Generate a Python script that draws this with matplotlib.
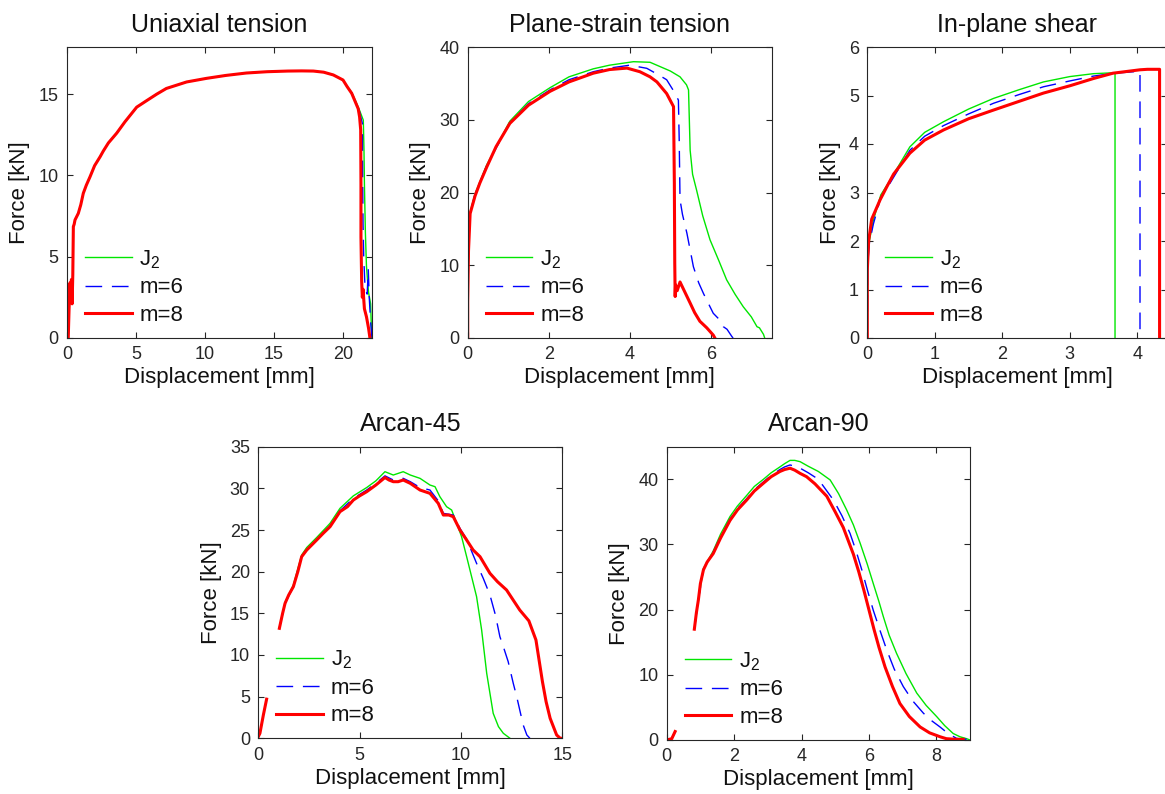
import matplotlib
matplotlib.use('Agg')
import matplotlib.pyplot as plt

plt.rcParams['font.family'] = ['Liberation Sans', 'DejaVu Sans']
plt.rcParams['mathtext.fontset'] = 'custom'
plt.rcParams['mathtext.rm'] = 'Liberation Sans'
plt.rcParams['mathtext.it'] = 'Liberation Sans'
plt.rcParams['mathtext.default'] = 'regular'

series_labels = ['J$_2$', 'm=6', 'm=8']
titles = ['Uniaxial tension', 'Plane-strain tension', 'In-plane shear', 'Arcan-45', 'Arcan-90']

# ---------------- Uniaxial tension ----------------
uni_common_x = [0.09, 0.15, 0.22, 0.27, 0.32, 0.37, 0.42, 0.46, 0.52, 0.58, 0.82, 1.0, 1.18, 1.4, 1.67,
                2.0, 2.4, 2.63, 3.0, 3.6, 4.2, 5.05, 5.77, 6.5, 7.2, 8.67, 10.1, 11.5, 13.0, 14.5,
                16.0, 17.0, 17.85, 18.6, 19.3, 20.0, 20.3]
uni_common_y = [0.0, 1.8, 3.4, 2.3, 3.6, 2.1, 3.9, 6.85, 7.0, 7.26, 7.67, 8.2, 8.9, 9.4, 9.92,
                10.6, 11.15, 11.5, 12.0, 12.6, 13.3, 14.2, 14.6, 15.0, 15.35, 15.75, 15.97, 16.15, 16.3, 16.38,
                16.42, 16.43, 16.42, 16.35, 16.18, 15.87, 15.46]
uni_j2_tail_x = [20.63, 20.9, 21.2, 21.47, 21.52, 21.55, 21.62, 21.7, 21.85, 22.0, 22.08]
uni_j2_tail_y = [15.1, 14.6, 14.0, 13.4, 11.5, 9.5, 6.5, 4.4, 2.8, 2.1, 0.0]
uni_m6_tail_x = [20.63, 20.9, 21.2, 21.4, 21.42, 21.45, 21.5, 21.6, 21.75, 21.83, 21.9, 22.0, 22.1]
uni_m6_tail_y = [15.08, 14.5, 13.9, 13.2, 10.0, 7.0, 5.0, 3.0, 2.7, 4.2, 2.5, 1.0, 0.0]
uni_m8_tail_x = [20.63, 21.1, 21.2, 21.28, 21.3, 21.3, 21.35, 21.4, 21.45, 21.55, 21.7, 21.85, 21.95]
uni_m8_tail_y = [15.05, 14.1, 13.6, 12.8, 9.5, 6.2, 3.5, 2.5, 3.0, 1.8, 1.3, 0.6, 0.0]

# ---------------- Plane-strain tension ----------------
ps_j2_x = [0, 0.02, 0.06, 0.18, 0.47, 1.04, 1.5, 2.03, 2.5, 3.1, 3.5, 4.09, 4.5, 4.75, 5.0, 5.24, 5.4,
           5.45, 5.49, 5.55, 5.65, 5.8, 5.98, 6.2, 6.39, 6.6, 6.8, 7.0, 7.14, 7.2, 7.3, 7.33]
ps_j2_y = [0, 12, 17.3, 19.8, 23.8, 29.8, 32.5, 34.4, 35.9, 37.0, 37.5, 37.98, 37.9, 37.3, 36.7, 35.9, 34.8,
           34.1, 25.8, 22.5, 20.3, 16.8, 13.5, 10.6, 8.0, 6.0, 4.3, 2.9, 1.55, 1.4, 0.5, 0]
ps_m6_x = [0, 0.02, 0.06, 0.18, 0.47, 1.04, 1.5, 2.03, 2.5, 3.1, 3.5, 4.0, 4.42, 4.7, 4.91, 5.1, 5.2,
           5.22, 5.24, 5.3, 5.41, 5.57, 5.7, 5.82, 6.06, 6.2, 6.31, 6.4, 6.52, 6.55]
ps_m6_y = [0, 12, 17.2, 19.7, 23.7, 29.6, 32.2, 34.1, 35.5, 36.6, 37.1, 37.5, 37.07, 36.2, 35.5, 33.8, 32.7,
           27.2, 19.0, 17.0, 14.4, 9.8, 7.6, 6.1, 3.4, 2.6, 1.55, 1.2, 0.2, 0]
ps_m8_x = [0, 0.0, 0.02, 0.06, 0.18, 0.3, 0.47, 0.7, 1.04, 1.5, 2.03, 2.5, 3.1, 3.5, 3.93, 4.25, 4.5,
           4.67, 4.91, 5.08, 5.1, 5.11, 5.12, 5.13, 5.17, 5.24, 5.3, 5.49, 5.6, 5.73, 5.9, 6.06, 6.1]
ps_m8_y = [0, 5, 12, 17.1, 19.5, 21.3, 23.5, 26.3, 29.5, 32.0, 33.9, 35.2, 36.4, 36.9, 37.1, 36.6, 35.9,
           35.2, 33.6, 31.8, 21.3, 10.3, 5.7, 7.3, 6.5, 7.7, 7.0, 4.8, 3.5, 2.3, 1.4, 0.4, 0]

# ---------------- In-plane shear ----------------
sh_j2_x = [0, 0.005, 0.03, 0.09, 0.2, 0.34, 0.63, 0.85, 1.13, 1.5, 1.87, 2.25, 2.61, 3.0, 3.35, 3.67, 3.67]
sh_j2_y = [0, 1.7, 2.0, 2.43, 2.95, 3.26, 3.94, 4.24, 4.46, 4.72, 4.94, 5.12, 5.28, 5.39, 5.45, 5.47, 0]
sh_m6_x = [0, 0.005, 0.03, 0.09, 0.2, 0.34, 0.63, 0.85, 1.13, 1.5, 1.87, 2.25, 2.61, 3.0, 3.35, 3.67, 4.04, 4.04]
sh_m6_y = [0, 1.5, 1.95, 2.35, 2.9, 3.2, 3.87, 4.16, 4.38, 4.62, 4.84, 5.02, 5.18, 5.3, 5.4, 5.46, 5.5, 0]
sh_m8_x = [0, 0.0, 0.02, 0.065, 0.19, 0.29, 0.39, 0.63, 0.85, 1.13, 1.5, 1.87, 2.25, 2.61, 3.0, 3.35,
           3.64, 4.04, 4.15, 4.33, 4.33]
sh_m8_y = [0, 1.4, 2.0, 2.45, 2.85, 3.12, 3.38, 3.81, 4.08, 4.29, 4.52, 4.7, 4.88, 5.05, 5.2, 5.35,
           5.46, 5.53, 5.54, 5.54, 0]

# ---------------- Arcan-45 ----------------
a45_start_x = [0.0, 0.08, 0.25, 0.41]
a45_start_y = [0.2, 0.6, 2.8, 4.7]
a45_j2_x = [1.04, 1.32, 1.73, 2.14, 2.39, 2.88, 3.54, 4.03, 4.69, 5.35, 5.8, 6.25, 6.66, 7.15, 7.5, 7.98,
            8.47, 8.72, 8.96, 9.29, 9.54, 9.79, 10.03, 10.28, 10.77, 11.02, 11.27, 11.59, 11.85, 12.09, 12.42]
a45_j2_y = [13.3, 16.3, 18.4, 22.0, 22.9, 24.1, 25.8, 27.6, 29.1, 30.1, 30.9, 32.0, 31.6, 32.0, 31.6, 31.2,
            30.4, 30.2, 29.0, 27.8, 27.4, 25.8, 24.2, 21.8, 17.0, 13.0, 7.8, 3.0, 1.4, 0.6, 0]
a45_m6_x = [1.04, 1.32, 1.73, 2.14, 2.39, 2.88, 3.54, 4.03, 4.69, 5.35, 5.8, 6.25, 6.66, 7.15, 7.5, 7.98,
            8.47, 8.88, 9.13, 9.62, 9.95, 10.28, 10.5, 10.77, 11.1, 11.43, 11.7, 11.92, 12.09, 12.33, 12.58,
            12.75, 13.07, 13.25, 13.4]
a45_m6_y = [13.2, 16.2, 18.2, 21.8, 22.6, 23.8, 25.5, 27.3, 28.8, 29.8, 30.6, 31.5, 31.0, 31.2, 30.8, 30.1,
            29.8, 28.5, 27.0, 26.8, 25.2, 23.9, 22.6, 21.0, 19.2, 17.2, 14.8, 12.2, 11.0, 9.2, 6.6,
            5.0, 1.6, 0.4, 0]
a45_m8_x = [1.04, 1.2, 1.32, 1.5, 1.73, 1.95, 2.14, 2.39, 2.88, 3.2, 3.54, 4.03, 4.4, 4.69, 5.0, 5.35, 5.8,
            6.25, 6.45, 6.66, 6.9, 7.15, 7.5, 7.98, 8.47, 8.88, 9.13, 9.4, 9.62, 9.95, 10.28, 10.6, 10.94,
            11.43, 11.8, 12.25, 12.9, 13.35, 13.7, 14.02, 14.2, 14.4, 14.72, 14.9, 15.0]
a45_m8_y = [13.2, 15.0, 16.2, 17.2, 18.2, 20.0, 21.8, 22.6, 23.8, 24.6, 25.4, 27.2, 27.8, 28.6, 29.1, 29.6, 30.4,
            31.3, 31.0, 30.8, 30.8, 31.0, 30.6, 29.8, 29.4, 28.2, 26.8, 26.8, 26.6, 25.0, 23.8, 22.6, 21.8,
            19.8, 18.8, 17.8, 15.4, 14.1, 11.8, 6.8, 4.4, 2.4, 0.4, 0.0, 0.0]

# ---------------- Arcan-90 ----------------
a90_start_x = [0.0, 0.15, 0.25]
a90_start_y = [0.0, 0.2, 1.3]
a90_j2_x = [0.82, 0.94, 1.09, 1.38, 1.6, 1.88, 2.1, 2.37, 2.6, 2.87, 3.1, 3.36, 3.5, 3.66, 3.8, 3.96, 4.2,
            4.5, 4.85, 5.1, 5.34, 5.54, 5.74, 5.95, 6.13, 6.3, 6.43, 6.6, 6.82, 7.1, 7.42, 7.7, 8.01, 8.25,
            8.5, 8.7, 8.9, 9.0]
a90_j2_y = [17.0, 21.6, 26.3, 29.0, 31.6, 34.3, 35.9, 37.5, 38.9, 40.0, 41.0, 41.9, 42.4, 42.9, 42.9, 42.7, 42.0,
            41.2, 39.9, 37.8, 35.3, 33.0, 30.2, 27.0, 24.0, 21.2, 18.9, 16.1, 13.3, 10.2, 7.2, 5.3, 3.6, 2.2,
            1.0, 0.5, 0.2, 0]
a90_m6_x = [0.82, 0.94, 1.09, 1.38, 1.6, 1.88, 2.1, 2.37, 2.6, 2.87, 3.1, 3.36, 3.5, 3.66, 3.8, 3.96, 4.2,
            4.5, 4.95, 5.2, 5.44, 5.62, 5.79, 5.95, 6.13, 6.33, 6.53, 6.75, 7.02, 7.3, 7.62, 7.85, 8.11, 8.35,
            8.6, 8.9]
a90_m6_y = [17.0, 21.5, 26.2, 28.8, 31.2, 33.9, 35.5, 37.0, 38.4, 39.6, 40.6, 41.5, 41.9, 42.2, 42.0, 41.7, 41.0,
            40.0, 36.8, 34.4, 31.7, 29.0, 26.1, 23.1, 19.9, 16.8, 13.8, 10.9, 8.2, 6.0, 4.1, 3.0, 2.0, 1.0,
            0.25, 0.1]
a90_m8_x = [0.82, 0.88, 0.94, 1.0, 1.09, 1.2, 1.38, 1.6, 1.88, 2.1, 2.37, 2.6, 2.87, 3.1, 3.36, 3.5, 3.66,
            3.8, 3.96, 4.15, 4.4, 4.75, 5.0, 5.24, 5.54, 5.7, 5.85, 6.0, 6.15, 6.3, 6.48, 6.7, 6.92, 7.2, 7.52,
            7.8, 8.11, 8.3, 8.6, 8.8]
a90_m8_y = [17.0, 19.5, 21.5, 24.0, 26.1, 27.3, 28.6, 31.0, 33.7, 35.3, 36.8, 38.2, 39.4, 40.4, 41.2, 41.5, 41.7,
            41.4, 40.9, 40.4, 39.3, 37.4, 35.0, 32.6, 28.5, 25.8, 23.0, 20.0, 17.0, 14.2, 11.2, 8.2, 5.6, 3.6, 2.0,
            1.1, 0.5, 0.2, 0.1, 0.1]

# ---------------- figure ----------------
W, H = 1165, 794
fig = plt.figure(figsize=(W / 100, H / 100), dpi=100)

GREEN = '#00e600'
BLUE = '#0000ff'
RED = '#ff0000'
TXT = '#262626'


def make_axes(l, t, r, b):
    return fig.add_axes([l / W, 1 - b / H, (r - l) / W, (b - t) / H])


def style(ax, title, xlim, ylim, xticks, yticks, wpx, hpx):
    ax.set_xlim(xlim)
    ax.set_ylim(ylim)
    ax.set_xticks(xticks)
    ax.set_yticks(yticks)
    ax.tick_params(direction='in', length=4, width=0.8, top=True, right=True,
                   labelsize=13, pad=6, colors=TXT)
    ax.set_title(title, fontsize=18, pad=11, color='#111111')
    ax.set_xlabel('Displacement [mm]', fontsize=16, labelpad=3, color='#111111')
    ax.set_ylabel('Force [kN]', fontsize=16, labelpad=6, color='#111111')
    for s in ax.spines.values():
        s.set_linewidth(0.8)
        s.set_color(TXT)
    leg = ax.legend(loc='lower left', bbox_to_anchor=(18 / wpx, 12 / hpx), borderaxespad=0,
                    borderpad=0, frameon=False, fontsize=16, handlelength=2.1,
                    handletextpad=0.35, labelspacing=0.3)
    for t in leg.get_texts():
        t.set_color('#111111')


def draw(ax, xs, ys, starts=None):
    if starts is not None:
        sx, sy = starts
        ax.plot(sx, sy, color=GREEN, lw=1.0)
        ax.plot(sx, sy, color=BLUE, lw=1.0, dashes=(12, 7))
        ax.plot(sx, sy, color=RED, lw=2.2)
    ax.plot(xs[0], ys[0], color=GREEN, lw=1.0, label=series_labels[0])
    ax.plot(xs[1], ys[1], color=BLUE, lw=1.0, dashes=(12, 7), label=series_labels[1])
    ax.plot(xs[2], ys[2], color=RED, lw=2.2, label=series_labels[2])


# Uniaxial
ax1 = make_axes(67, 47, 372, 338)
draw(ax1, [uni_common_x + uni_j2_tail_x, uni_common_x + uni_m6_tail_x, uni_common_x + uni_m8_tail_x],
     [uni_common_y + uni_j2_tail_y, uni_common_y + uni_m6_tail_y, uni_common_y + uni_m8_tail_y])
style(ax1, titles[0], (0, 22.1), (0, 17.9), [0, 5, 10, 15, 20], [0, 5, 10, 15], 305, 291)

# Plane strain
ax2 = make_axes(467.7, 47, 772, 338)
draw(ax2, [ps_j2_x, ps_m6_x, ps_m8_x], [ps_j2_y, ps_m6_y, ps_m8_y])
style(ax2, titles[1], (0, 7.51), (0, 40), [0, 2, 4, 6], [0, 10, 20, 30, 40], 304, 291)

# In-plane shear
ax3 = make_axes(867.3, 47, 1167, 338)
draw(ax3, [sh_j2_x, sh_m6_x, sh_m8_x], [sh_j2_y, sh_m6_y, sh_m8_y])
style(ax3, titles[2], (0, 4.44), (0, 6), [0, 1, 2, 3, 4], [0, 1, 2, 3, 4, 5, 6], 300, 291)

# Arcan-45
ax4 = make_axes(258.3, 446.7, 562.3, 738.3)
draw(ax4, [a45_j2_x, a45_m6_x, a45_m8_x], [a45_j2_y, a45_m6_y, a45_m8_y], (a45_start_x, a45_start_y))
style(ax4, titles[3], (0, 15), (0, 35), [0, 5, 10, 15], [0, 5, 10, 15, 20, 25, 30, 35], 304, 292)

# Arcan-90
ax5 = make_axes(666.7, 446.7, 970, 740)
draw(ax5, [a90_j2_x, a90_m6_x, a90_m8_x], [a90_j2_y, a90_m6_y, a90_m8_y], (a90_start_x, a90_start_y))
style(ax5, titles[4], (0, 9), (0, 45), [0, 2, 4, 6, 8], [0, 10, 20, 30, 40], 303, 293)

fig.savefig('out.png', dpi=100)
